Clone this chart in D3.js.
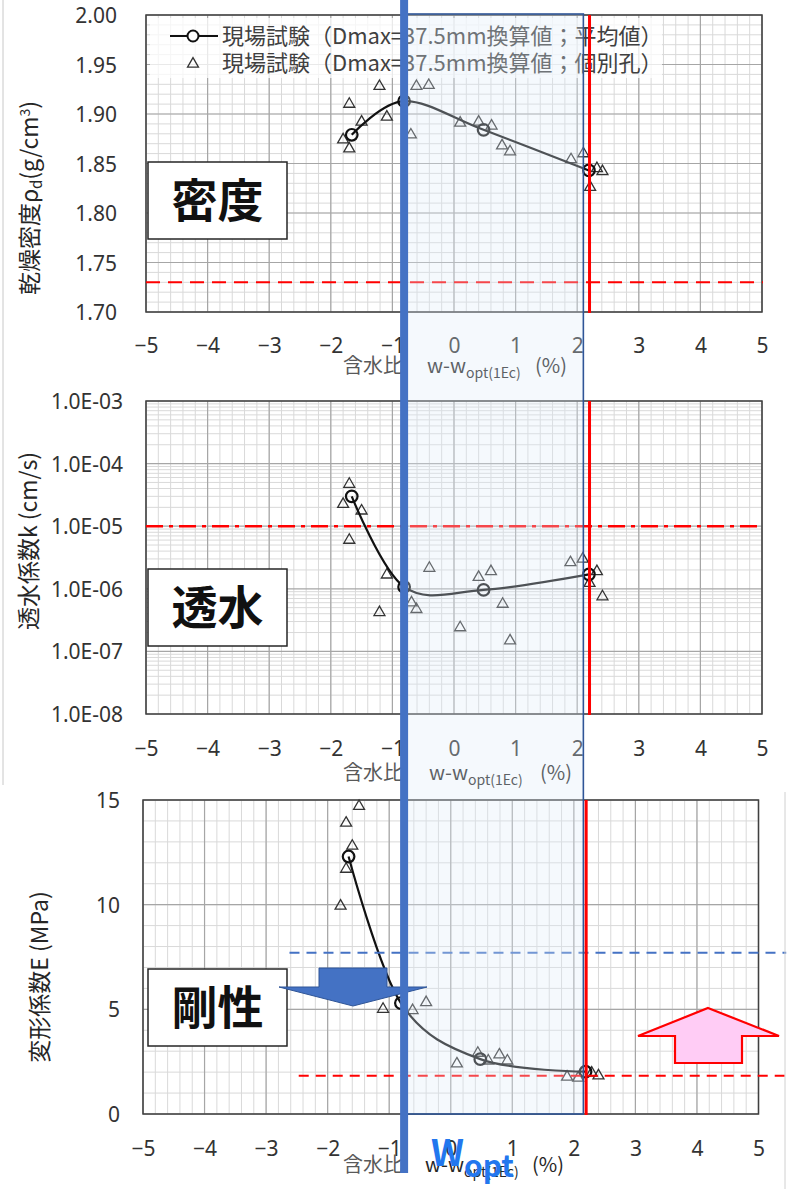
<!DOCTYPE html>
<html><head><meta charset="utf-8">
<script src="https://cdn.jsdelivr.net/npm/d3@7"></script>
<style>body{margin:0;background:#fff}svg{display:block}</style>
</head><body>
<svg id="c" width="790" height="1189"></svg>
<script>
// ---------- data ----------
const xTicks = [-5,-4,-3,-2,-1,0,1,2,3,4,5];
const densityTicks = [1.70,1.75,1.80,1.85,1.90,1.95,2.00];
const permTicks = [1e-8,1e-7,1e-6,1e-5,1e-4,1e-3];
const permTickLabels = ["1.0E-08","1.0E-07","1.0E-06","1.0E-05","1.0E-04","1.0E-03"];
const stiffTicks = [0,5,10,15];

// averages (circles + smoothed line)
const avgW       = [-1.66, -0.81, 0.48, 2.19];
const avgDensity = [1.879, 1.913, 1.884, 1.843];
const avgPerm    = [3.0e-5, 1.07e-6, 9.6e-7, 1.7e-6];
const avgStiff   = [12.3, 5.3, 2.62, 2.02];

// individual holes (triangles)
const densW = [-1.21,-1.70,-1.50,-1.09,-0.61,-0.41,-0.70,-1.80,-1.70,0.10,0.40,0.61,0.78,0.91,1.90,2.10,2.32,2.41,2.21];
const densV = [1.928,1.910,1.892,1.897,1.928,1.929,1.879,1.874,1.865,1.891,1.892,1.888,1.868,1.862,1.854,1.860,1.845,1.842,1.826];

const permW = [-1.70,-1.80,-1.50,-1.70,-1.09,-1.21,-0.69,-0.61,-0.40,0.10,0.40,0.60,0.79,0.91,1.89,2.09,2.32,2.20,2.41];
const permV = [4.7e-5,2.25e-5,1.76e-5,6.0e-6,1.67e-6,4.2e-7,6.0e-7,4.7e-7,2.14e-6,2.4e-7,1.53e-6,1.89e-6,5.7e-7,1.48e-7,2.63e-6,3.0e-6,1.89e-6,1.23e-6,7.5e-7];

const stiffW = [-1.49,-1.70,-1.60,-1.70,-1.79,-1.10,-0.62,-0.40,0.10,0.44,0.61,0.79,0.92,1.89,2.07,2.29,2.40];
const stiffV = [14.7,13.9,12.8,11.7,9.94,5.01,4.95,5.33,2.40,2.91,2.54,2.83,2.54,1.77,1.72,1.96,1.83];

// reference lines / annotations
const densLimit = 1.73;       // red dashed
const permLimit = 1e-5;       // red dash-dot
const stiffLimitLow = 1.83;   // red dashed
const stiffLimitHigh = 7.7;   // blue dashed
const redW = 2.2;             // red vertical
const woptW = -0.81;          // blue thick vertical
const rangeRightW = 2.10;     // blue range box right edge (top chart scale)

const legendLabels = ["現場試験（Dmax=37.5mm換算値；平均値）","現場試験（Dmax=37.5mm換算値；個別孔）"];

// ---------- drawing ----------
const svg = d3.select("#c");
const NUM = "'Noto Sans', 'DejaVu Sans', sans-serif";
const CJK = "'Noto Sans CJK JP', 'Noto Sans', sans-serif";

const layouts = {
  dens:  {left:146, right:762, top:15,  bottom:312, xLab:345,  yLabX:117},
  perm:  {left:146, right:762, top:401, bottom:714, xLab:748,  yLabX:123},
  stiff: {left:143, right:758.5, top:800, bottom:1114, xLab:1148, yLabX:120}
};

function frame(cfg, y, yMinor, yMajor) {
  const x = d3.scaleLinear().domain([-5,5]).range([cfg.left,cfg.right]);
  const g = svg.append("g");
  const xMinor = d3.range(-50,51,2).map(d=>d/10);
  g.selectAll(".vxm").data(xMinor).join("line")
    .attr("x1",d=>x(d)).attr("x2",d=>x(d)).attr("y1",cfg.top).attr("y2",cfg.bottom)
    .attr("stroke","#D9D9D9").attr("stroke-width",1);
  g.selectAll(".hym").data(yMinor).join("line")
    .attr("x1",cfg.left).attr("x2",cfg.right).attr("y1",d=>y(d)).attr("y2",d=>y(d))
    .attr("stroke","#D9D9D9").attr("stroke-width",1);
  g.selectAll(".vxM").data(xTicks).join("line")
    .attr("x1",d=>x(d)).attr("x2",d=>x(d)).attr("y1",cfg.top).attr("y2",cfg.bottom)
    .attr("stroke","#A6A6A6").attr("stroke-width",1.2);
  g.selectAll(".hyM").data(yMajor).join("line")
    .attr("x1",cfg.left).attr("x2",cfg.right).attr("y1",d=>y(d)).attr("y2",d=>y(d))
    .attr("stroke","#A6A6A6").attr("stroke-width",1.2);
  g.append("rect").attr("x",cfg.left).attr("y",cfg.top)
    .attr("width",cfg.right-cfg.left).attr("height",cfg.bottom-cfg.top)
    .attr("fill","none").attr("stroke","#404040").attr("stroke-width",1.5);
  const ax = svg.append("g").attr("transform",`translate(0,${cfg.xLab})`)
    .call(d3.axisBottom(x).tickValues(xTicks).tickSize(0).tickPadding(0).tickFormat(d3.format("d")));
  ax.select(".domain").remove();
  ax.selectAll("text").attr("y",0).attr("dy","0.36em")
    .attr("font-family",NUM).attr("font-size",21).attr("fill","#333");
  return x;
}

function yAxis(cfg, y, ticks, fmt) {
  const ay = svg.append("g").attr("transform",`translate(${cfg.yLabX},0)`)
    .call(d3.axisLeft(y).tickValues(ticks).tickSize(0).tickPadding(0).tickFormat(fmt));
  ay.select(".domain").remove();
  ay.selectAll("text").attr("x",0).attr("dy","0.36em")
    .attr("font-family",NUM).attr("font-size",21).attr("fill","#333");
}

function xTitle(cx, yb, wx, px) {
  const t = svg.append("text").attr("y",yb).attr("font-family",CJK).attr("font-size",20).attr("fill","#262626");
  t.append("tspan").attr("x",cx).attr("fill","#595959").text("含水比");
  t.append("tspan").attr("x",wx).text("w-w");
  t.append("tspan").attr("dy",5).attr("font-size",14).text("opt(1Ec)");
  t.append("tspan").attr("x",px).attr("dy",-5).text("(%)");
}

function series(x, y, wArr, vArr, aw, av) {
  const tri = d3.symbol().type(d3.symbolTriangle).size(52);
  svg.append("g").selectAll("path").data(wArr.map((w,i)=>[w,vArr[i]])).join("path")
    .attr("d",tri).attr("transform",d=>`translate(${x(d[0])},${y(d[1])})`)
    .attr("fill","none").attr("stroke","#333").attr("stroke-width",1.3);
  const pts = aw.map((w,i)=>[w,av[i]]);
  svg.append("path").datum(pts)
    .attr("d",d3.line().x(d=>x(d[0])).y(d=>y(d[1])).curve(d3.curveCardinal.tension(0)))
    .attr("fill","none").attr("stroke","#111").attr("stroke-width",2.2);
  svg.append("g").selectAll("circle").data(pts).join("circle")
    .attr("cx",d=>x(d[0])).attr("cy",d=>y(d[1])).attr("r",5.8)
    .attr("fill","none").attr("stroke","#111").attr("stroke-width",2.2);
}

// --- chart 1: density
const L1 = layouts.dens;
const y1 = d3.scaleLinear().domain([1.70,2.00]).range([L1.bottom,L1.top]);
const x1 = frame(L1, y1, d3.range(170,201,1).map(d=>d/100), densityTicks);
yAxis(L1, y1, densityTicks, d3.format(".2f"));
svg.append("line").attr("x1",L1.left).attr("x2",L1.right+1).attr("y1",y1(densLimit)).attr("y2",y1(densLimit))
  .attr("stroke","#FF0000").attr("stroke-width",2).attr("stroke-dasharray","14,8");
series(x1, y1, densW, densV, avgW, avgDensity);

// legend
const lg = svg.append("g");
lg.append("rect").attr("x",150).attr("y",18).attr("width",512).attr("height",60)
  .attr("fill","#fff").attr("opacity",0.75);
lg.append("line").attr("x1",170).attr("x2",218).attr("y1",36).attr("y2",36).attr("stroke","#111").attr("stroke-width",2);
lg.append("circle").attr("cx",193).attr("cy",36).attr("r",5.5).attr("fill","#fff").attr("stroke","#111").attr("stroke-width",2);
lg.append("path").attr("d",d3.symbol().type(d3.symbolTriangle).size(52)).attr("transform","translate(193,64)")
  .attr("fill","none").attr("stroke","#333").attr("stroke-width",1.3);
lg.selectAll("text").data(legendLabels).join("text")
  .attr("x",222).attr("y",(d,i)=>36+i*27).attr("dy","0.36em")
  .attr("font-family",CJK).attr("font-size",22).attr("fill","#404040").text(d=>d);

xTitle(343, 373, 427, 535);
svg.append("text").attr("transform","translate(30,198) rotate(-90)").attr("text-anchor","middle").attr("dy","0.36em")
  .attr("font-family",CJK).attr("font-size",23).attr("fill","#262626")
  .call(t=>{t.append("tspan").text("乾燥密度ρ");
            t.append("tspan").attr("font-size",15).attr("dy",4).text("d");
            t.append("tspan").attr("dy",-4).text("(g/cm");
            t.append("tspan").attr("font-size",14).attr("dy",-8).text("3");
            t.append("tspan").attr("dy",8).text(")");});

// --- chart 2: permeability
const L2 = layouts.perm;
const y2 = d3.scaleLog().domain([1e-8,1e-3]).range([L2.bottom,L2.top]);
const permMinor = [];
[-8,-7,-6,-5,-4].forEach(e=>{for(let m=2;m<=9;m++) permMinor.push(m*Math.pow(10,e));});
const x2 = frame(L2, y2, permMinor, permTicks);
yAxis(L2, y2, permTicks, (d)=>permTickLabels[permTicks.indexOf(d)]);
svg.append("line").attr("x1",L2.left).attr("x2",L2.right).attr("y1",y2(permLimit)).attr("y2",y2(permLimit))
  .attr("stroke","#FF0000").attr("stroke-width",2.5).attr("stroke-dasharray","17,6,4,6");
series(x2, y2, permW, permV, avgW, avgPerm);
xTitle(343, 780, 429, 540);
svg.append("text").attr("transform","translate(29,541) rotate(-90)").attr("text-anchor","middle").attr("dy","0.36em")
  .attr("font-family",CJK).attr("font-size",23).attr("fill","#262626").text("透水係数k (cm/s)");

// --- chart 3: stiffness
const L3 = layouts.stiff;
const y3 = d3.scaleLinear().domain([0,15]).range([L3.bottom,L3.top]);
const x3 = frame(L3, y3, d3.range(0,16,1), stiffTicks);
yAxis(L3, y3, stiffTicks, d3.format("d"));
series(x3, y3, stiffW, stiffV, avgW, avgStiff);
xTitle(343, 1172, 425, 532);
svg.append("text").attr("transform","translate(40,977) rotate(-90)").attr("text-anchor","middle").attr("dy","0.36em")
  .attr("font-family",CJK).attr("font-size",23).attr("fill","#262626").text("変形係数E (MPa)");
svg.append("line").attr("x1",x3(-2.62)).attr("x2",x3(5.45)).attr("y1",y3(stiffLimitHigh)).attr("y2",y3(stiffLimitHigh))
  .attr("stroke","#4472C4").attr("stroke-width",2).attr("stroke-dasharray","10,7");
svg.append("line").attr("x1",x3(-2.47)).attr("x2",x3(5.5)).attr("y1",y3(stiffLimitLow)).attr("y2",y3(stiffLimitLow))
  .attr("stroke","#FF0000").attr("stroke-width",2).attr("stroke-dasharray","10,7");

// ---------- overlays ----------
svg.append("line").attr("x1",3).attr("x2",3).attr("y1",0).attr("y2",785).attr("stroke","#C8C8C8").attr("stroke-width",1);
svg.append("line").attr("x1",785).attr("x2",785).attr("y1",792).attr("y2",1189).attr("stroke","#D0D0D0").attr("stroke-width",1);

// blue range box
svg.append("rect").attr("x",x1(woptW)).attr("y",14)
  .attr("width",x1(rangeRightW)-x1(woptW)).attr("height",L3.bottom-14)
  .attr("fill","#DDEBF7").attr("fill-opacity",0.3).attr("stroke","#2F5597").attr("stroke-width",1.6);

// red verticals
[[x1,L1],[x2,L2],[x3,L3]].forEach(([xs,L])=>{
  svg.append("line").attr("x1",xs(redW)).attr("x2",xs(redW)).attr("y1",L.top).attr("y2",L.bottom+1)
    .attr("stroke","#FF0000").attr("stroke-width",3);
});

// labelled boxes
[["密度",162],["透水",569],["剛性",969]].forEach(([t,yt])=>{
  svg.append("rect").attr("x",148).attr("y",yt).attr("width",139).attr("height",77)
    .attr("fill","#fff").attr("stroke","#262626").attr("stroke-width",1.5);
  svg.append("text").attr("x",217.5).attr("y",yt+38.5).attr("dy","0.36em").attr("text-anchor","middle")
    .attr("font-family",CJK).attr("font-weight",700).attr("font-size",46).attr("fill","#111").text(t);
});

// blue down arrow (stiffness)
svg.append("path").attr("d","M319,968 L387,968 L387,987 L427,987 L353,1006 L279,987 L319,987 Z")
  .attr("fill","#4472C4").attr("stroke","#2F5597").attr("stroke-width",1);

// pink up arrow
svg.append("path").attr("d","M708,1008 L779,1036 L742,1036 L742,1063 L675,1063 L675,1036 L638,1036 Z")
  .attr("fill","#FFCCF5").attr("stroke","#FF0000").attr("stroke-width",2.2);

// blue thick w_opt line
svg.append("line").attr("x1",x1(woptW)).attr("x2",x1(woptW)).attr("y1",0).attr("y2",1173)
  .attr("stroke","#4472C4").attr("stroke-width",8);

// W_opt label
const wt = svg.append("text").attr("x",431).attr("y",1166).attr("font-family",CJK).attr("font-weight",700).attr("fill","#2277EE");
wt.append("tspan").attr("font-size",36).text("W");
wt.append("tspan").attr("font-size",30).attr("dy",11).text("opt");
</script>
</body></html>
